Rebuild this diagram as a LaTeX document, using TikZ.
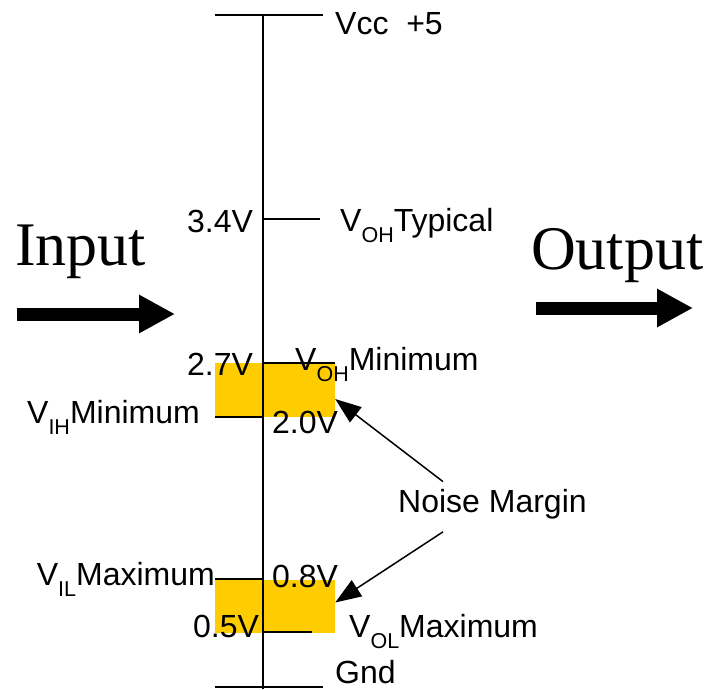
\documentclass[tikz,border=0pt]{standalone}
\usepackage{fontspec}
\setmainfont{Liberation Sans}
\newfontfamily\bigserif{Liberation Serif}
\usetikzlibrary{arrows.meta,calc}
\definecolor{marginfill}{HTML}{FFCC00}
\newcommand{\lowsub}[1]{\raisebox{-11pt}{\fontsize{21.5}{22}\selectfont #1}}

\begin{document}
\begin{tikzpicture}[x=1pt, y=-1pt,
    lvl/.style={font=\fontsize{32}{36}\selectfont, inner sep=0pt,
                anchor=base west},
    lvlr/.style={lvl, anchor=base east},
    io/.style={font=\bigserif\fontsize{62}{70}\selectfont, inner sep=0pt,
               anchor=base west},
    zone/.style={fill=marginfill, draw=none, minimum width=120pt,
                 minimum height=54pt, inner sep=0pt},
    axis/.style={line width=1.8pt},
    nm/.style={-{Triangle[length=26pt,width=19pt]}, line width=1.5pt},
    bigarrow/.style={line width=13pt, -{Triangle[length=36pt,width=36pt]}}
  ]
  \useasboundingbox (0,0) rectangle (708,689);

  % Noise margin zones
  \node[zone] (high) at (275,390) {};
  \node[zone, minimum height=53pt] (low) at (275,606.5) {};

  % Voltage axis and levels
  \draw[axis] (263,15) -- (263,689);
  \draw[axis] (215,15) -- (323,15);
  \draw[axis] (263,219) -- (320,219);
  \draw[axis] (263,363) -- (335,363);
  \draw[axis] (215,417) -- (263,417);
  \draw[axis] (215,579) -- (263,579);
  \draw[axis] (263,632) -- (312,632);
  \draw[axis] (215,687) -- (323,687);

  % Level labels
  \node[lvl]  (vcc)  at (335,34)  {Vcc\ \ +5};
  \node[lvl]  (v34)  at (187,232) {3.4V};
  \node[lvl]  (voht) at (340,231) {V\lowsub{OH}Typical};
  \node[lvl]  (v27)  at (187,375) {2.7V};
  \node[lvl]  (vohm) at (295,370) {V\lowsub{OH}Minimum};
  \node[lvlr] (vihm) at (200,423) {V\lowsub{IH}Minimum};
  \node[lvl]  (v20)  at (272,433) {2.0V};
  \node[lvlr] (vilm) at (215,585) {V\lowsub{IL}Maximum};
  \node[lvl]  (v08)  at (272,587) {0.8V};
  \node[lvl]  (v05)  at (193,637) {0.5V};
  \node[lvl]  (volm) at (349,637) {V\lowsub{OL}Maximum};
  \node[lvl]  (gnd)  at (335,683) {Gnd};

  % Noise margin callout
  \node[lvl] (noise) at (398,512) {Noise Margin};
  \draw[nm] ($(noise.north west)+(45,-7)$) -- ($(high.east)+(0,9)$);
  \draw[nm] ($(noise.south west)+(45,13)$) -- ($(low.east)+(0,-4)$);

  % Input / Output
  \node[io] (input)  at (15,265)  {Input};
  \node[io] (output) at (531,269) {Output};
  \coordinate (inA)  at (17,314);
  \coordinate (inB)  at (175,314);
  \coordinate (outA) at (536,308);
  \coordinate (outB) at (693,308);
  \draw[bigarrow] (inA) -- (inB);
  \draw[bigarrow] (outA) -- (outB);
\end{tikzpicture}
\end{document}
